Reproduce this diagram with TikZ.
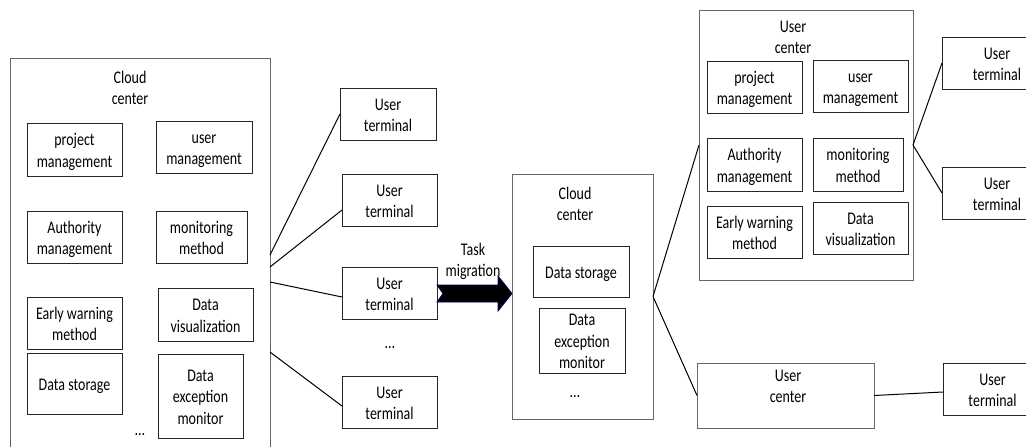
\documentclass[tikz,border=0pt]{standalone}
\usepackage{fontspec}
\setmainfont{Carlito}

% text of a box: centred lines, a little taller than wide
\newcommand\vs[1]{\raisebox{-2.5pt}[\height][\depth]{\scalebox{1}[1.27]{\fontsize{14}{17}\selectfont\begin{tabular}{@{}c@{}}#1\end{tabular}}}}
% box from its corners (x1,y1) and (x2,y2)
\newcommand\bx[7][box]{\node[#1, minimum width={#5-#3}, minimum height={#6-#4}]
  (#2) at ({(#3+#5)/2},{(#4+#6)/2}) {#7};}

\begin{document}
\begin{tikzpicture}[x=1pt,y=-1pt,
  outerbox/.style={draw=black!60, line width=0.9pt, inner sep=0pt, outer sep=0pt},
  box/.style={draw=black!85, line width=0.9pt, inner sep=0pt, outer sep=0pt},
  lbl/.style={inner sep=0pt},
  link/.style={draw=black, line width=1pt}]
\useasboundingbox (0,0) rectangle (1026,447);
\clip (0,0) rectangle (1026,447);

% ---- cloud center with all services ----
\bx[outerbox]{lcc}{10}{58}{270}{452}{}
\node[lbl] (lcct) at (130,87) {\vs{Cloud\\center}};
\bx{lpm}{27}{123}{122}{176}{\vs{project\\management}}
\bx{lum}{156}{121}{252}{173}{\vs{user\\management}}
\bx{lam}{27}{211}{122}{263}{\vs{Authority\\management}}
\bx{lmm}{156}{211}{247}{263}{\vs{monitoring\\method}}
\bx{lew}{27}{297}{122}{349}{\vs{Early warning\\method}}
\bx{ldv}{158}{288}{253}{341}{\vs{Data\\visualization}}
\bx{lds}{27}{353}{122}{414}{\vs{Data storage}}
\bx{lde}{158}{354}{243}{438}{\vs{Data\\exception\\monitor}}
\node[lbl] (ldots) at (140,429) {\vs{…}};

% ---- user terminals ----
\bx{ut1}{340}{88}{436}{140}{\vs{User\\terminal}}
\bx{ut2}{342}{174}{437}{226}{\vs{User\\terminal}}
\bx{ut3}{342}{267}{437}{319}{\vs{User\\terminal}}
\node[lbl] (mdots) at (390,342) {\vs{…}};
\bx{ut4}{342}{376}{437}{428}{\vs{User\\terminal}}

\draw[link] (lcc.east) -- (ut1.west);
\draw[link] ([yshift=-12pt]lcc.east) -- ([yshift=-10pt]ut2.west);
\draw[link] ([yshift=-27pt]lcc.east) -- ([yshift=-4pt]ut3.west);
\draw[link] ([yshift=-97pt]lcc.east) -- ([yshift=-4pt]ut4.west);

% ---- task migration arrow ----
\filldraw[fill=black, draw=blue!35!black, line width=0.8pt]
  (437,285) -- (498,285) -- (498,276) -- (512,293.5) -- (498,311)
  -- (498,302) -- (437,302) -- (443,293.5) -- cycle;
\node[lbl] (tm) at (473,259) {\vs{Task\\migration}};

% ---- reduced cloud center ----
\bx[outerbox]{cc2}{512}{174}{653}{419}{}
\node[lbl] (cc2t) at (575,203) {\vs{Cloud\\center}};
\bx{cds}{533}{246}{629}{297}{\vs{Data storage}}
\bx{cde}{539}{308}{625}{373}{\vs{Data\\exception\\monitor}}
\node[lbl] (cdots) at (575,391) {\vs{…}};

% ---- user centers ----
\bx[outerbox]{ruc}{699}{10}{913}{280}{}
\node[lbl] (ruct) at (793,36) {\vs{User\\center}};
\bx{rpm}{707}{61}{802}{113}{\vs{project\\management}}
\bx{rum}{813}{60}{908}{112}{\vs{user\\management}}
\bx{ram}{707}{138}{802}{191}{\vs{Authority\\management}}
\bx{rmm}{813}{138}{903}{191}{\vs{monitoring\\method}}
\bx{rew}{707}{206}{802}{258}{\vs{Early warning\\method}}
\bx{rdv}{813}{202}{908}{254}{\vs{Data\\visualization}}

\bx[outerbox]{buc}{697}{363}{874}{428}{}
\node[lbl] (buct) at (788,385) {\vs{User\\center}};

\draw[link] (cc2.east) -- (ruc.west);
\draw[link] (cc2.east) -- (buc.west);

% ---- terminals of the user centers ----
\bx{ut5}{942}{37}{1052}{89}{\vs{User\\terminal}}
\bx{ut6}{942}{167}{1052}{219}{\vs{User\\terminal}}
\bx{ut7}{943}{363}{1042}{415}{\vs{User\\terminal}}

\draw[link] (ruc.east) -- (ut5.west);
\draw[link] (ruc.east) -- (ut6.west);
\draw[link] (buc.east) -- ([yshift=-3pt]ut7.west);
\end{tikzpicture}
\end{document}
